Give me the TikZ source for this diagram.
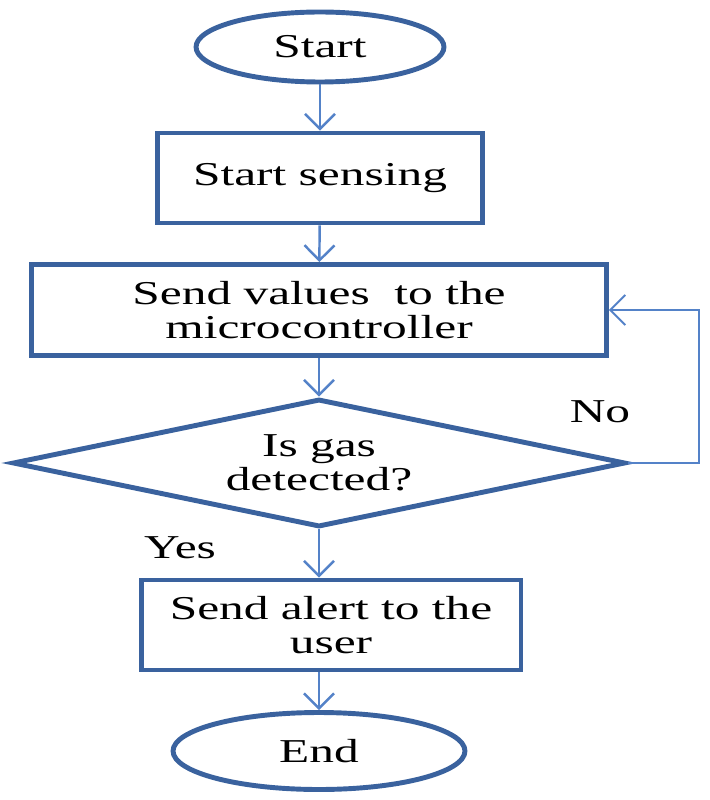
\documentclass[tikz,border=0pt]{standalone}
\usepackage{fontspec}
\setmainfont{Liberation Serif}[FakeStretch=1.48]
\usetikzlibrary{arrows.meta,shapes.geometric,positioning}
\definecolor{boxblue}{RGB}{58,98,158}
\definecolor{arrowblue}{RGB}{84,130,200}

\begin{document}
\begin{tikzpicture}[
  x=0.02cm, y=-0.02cm,
  every node/.style={font=\fontsize{19}{19.5}\selectfont, align=center, inner sep=0pt},
  term/.style={ellipse, draw=boxblue, line width=2.8pt},
  process/.style={rectangle, draw=boxblue, line width=2.8pt},
  decision/.style={diamond, draw=boxblue, line width=2.8pt, aspect=4.8},
  flow/.style={draw=arrowblue, line width=1.4pt, -{Straight Barb[length=0.3cm, width=0.6cm]}}
]
\useasboundingbox (0,0) rectangle (709,800);
\node[term, minimum width=4.96cm, minimum height=1.4cm] (start) at (320,47) {Start};
\node[process, minimum width=6.5cm, minimum height=1.8cm] (sense) at (320,178) {Start sensing};
\node[process, minimum width=11.5cm, minimum height=1.82cm] (values) at (319,310) {Send values~ to the\\microcontroller};
\node[decision, minimum width=12.26cm, minimum height=2.56cm] (gas) at (319,463) {Is gas\\detected?};
\node[process, minimum width=7.6cm, minimum height=1.8cm] (alert) at (331,625) {Send alert to the\\user};
\node[term, minimum width=5.84cm, minimum height=1.54cm] (end) at (319,751) {End};
\node (no) at (600,412) {No};
\node (yes) at (180,548) {Yes};

\draw[flow] (start) -- (sense);
\draw[flow] (sense) -- (values);
\draw[flow] (values) -- (gas);
\draw[flow] (gas.south) -- (gas.south |- alert.north);
\draw[flow] (alert.south -| end.north) -- (end.north);
\draw[flow, line width=1.1pt] (gas.east) -- ++(71,0) |- (values.east);
\end{tikzpicture}
\end{document}
